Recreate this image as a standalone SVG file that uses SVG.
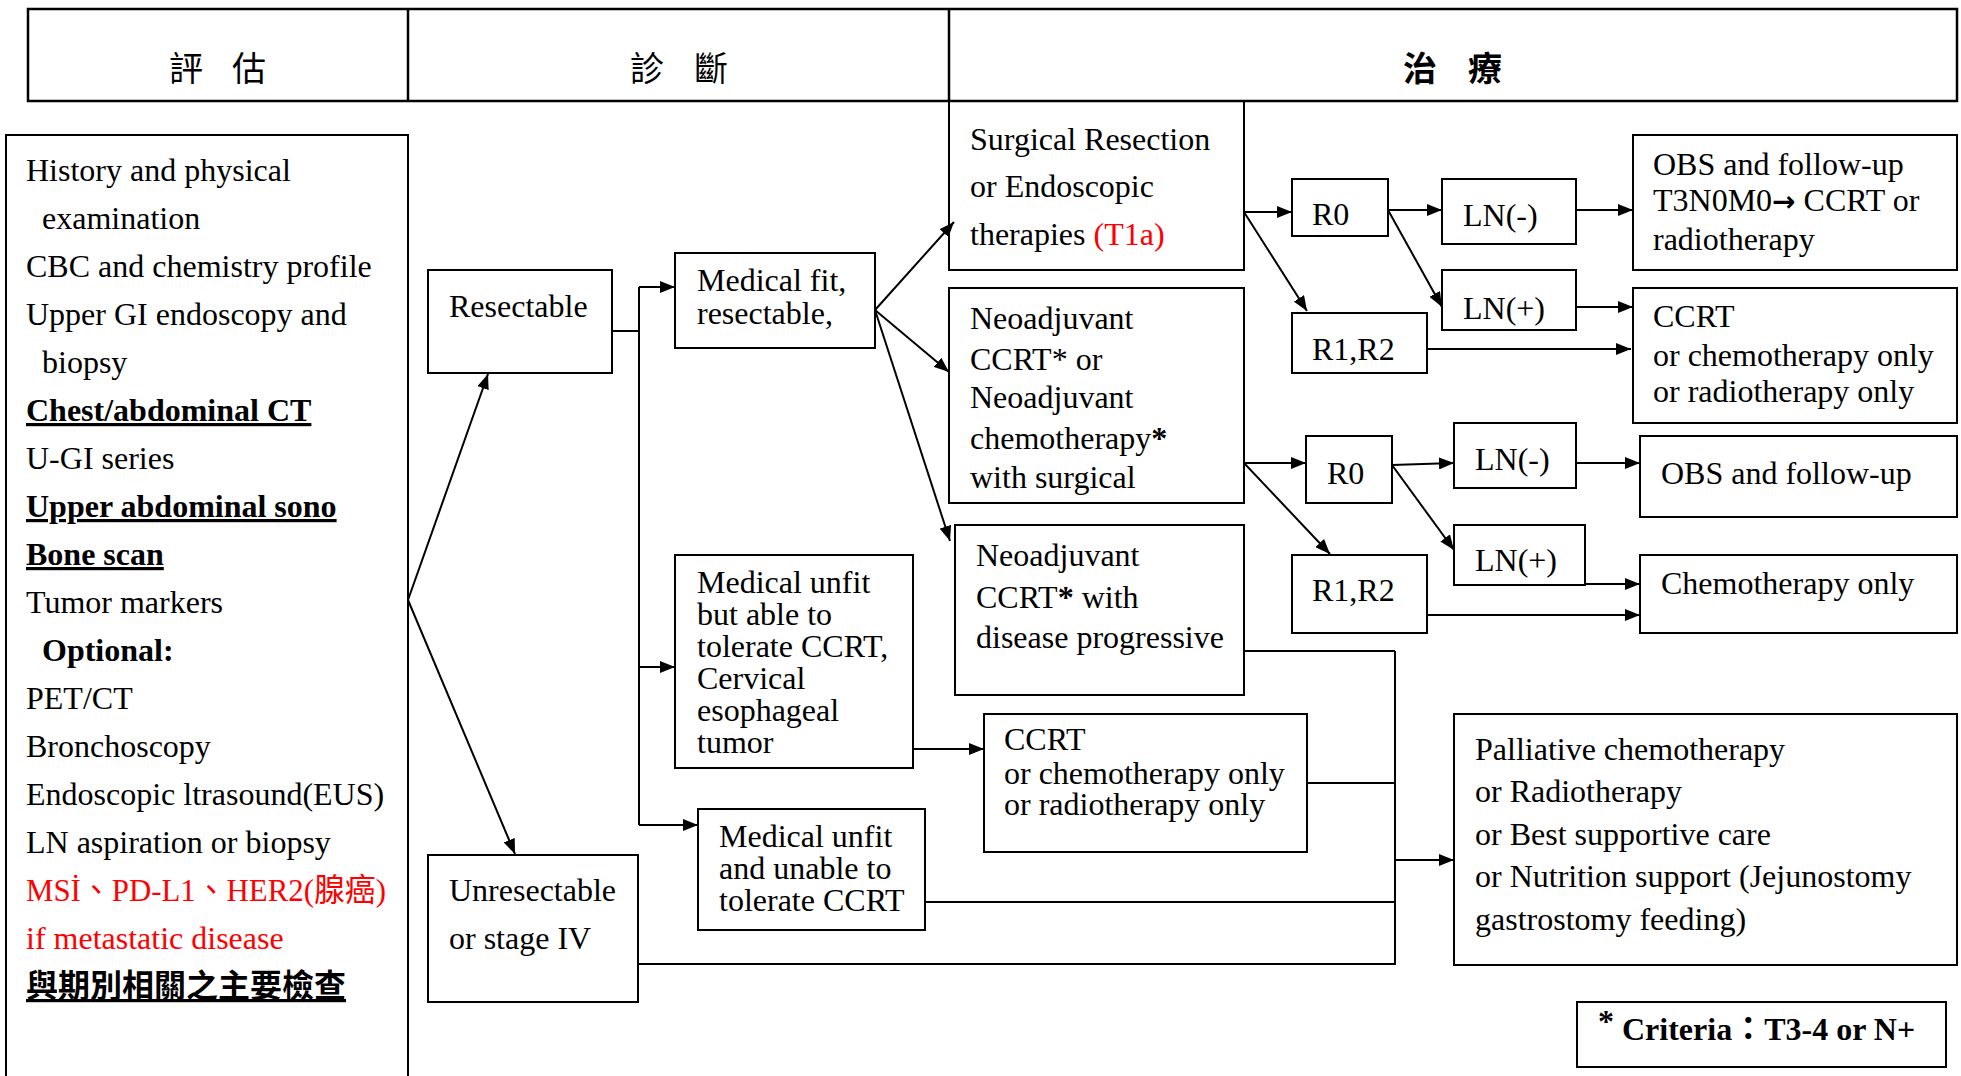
<svg xmlns="http://www.w3.org/2000/svg" width="1961" height="1076" viewBox="0 0 1961 1076">
<defs>
<marker id="ah" markerUnits="userSpaceOnUse" markerWidth="16" markerHeight="12" refX="15" refY="6" orient="auto">
<path d="M0,0 L15,6 L0,12 z" fill="#000"/>
</marker>
<style>
.box{fill:none;stroke:#000;stroke-width:2}
.hd{fill:none;stroke:#000;stroke-width:2.5}
.t{font-family:"Liberation Serif","Noto Sans CJK TC",serif;font-size:32px;fill:#000}
.b{font-weight:bold}
.u{text-decoration:underline}
.red{fill:#ff0000}
.cjk{font-family:"Noto Sans CJK TC",sans-serif;font-size:34px;fill:#000}
.c{stroke:#000;stroke-width:2;fill:none}
.a{marker-end:url(#ah)}
</style>
</defs>
<rect width="1961" height="1076" fill="#fff"/>

<g id="header">
<rect class="hd" x="28" y="9" width="1929" height="92"/>
<line class="hd" x1="408" y1="9" x2="408" y2="101"/>
<line class="hd" x1="949" y1="9" x2="949" y2="101"/>
<text class="cjk" x="169 205 232" y="81">評 估</text>
<text class="cjk" x="630 666 694" y="81">診 斷</text>
<text class="cjk" x="1403 1440 1468" y="81" font-weight="bold">治 療</text>
</g>

<g id="evaluation">
<path class="box" d="M6,1080 V135 H408 V1080"/>
<text class="t" x="26" y="181">History and physical</text>
<text class="t" x="42" y="229">examination</text>
<text class="t" x="26" y="277">CBC and chemistry profile</text>
<text class="t" x="26" y="325">Upper GI endoscopy and</text>
<text class="t" x="42" y="373">biopsy</text>
<text class="t b u" x="26" y="421">Chest/abdominal CT</text>
<text class="t" x="26" y="469">U-GI series</text>
<text class="t b u" x="26" y="517">Upper abdominal sono</text>
<text class="t b u" x="26" y="565">Bone scan</text>
<text class="t" x="26" y="613">Tumor markers</text>
<text class="t b" x="42" y="661">Optional:</text>
<text class="t" x="26" y="709">PET/CT</text>
<text class="t" x="26" y="757">Bronchoscopy</text>
<text class="t" x="26" y="805">Endoscopic ltrasound(EUS)</text>
<text class="t" x="26" y="853">LN aspiration or biopsy</text>
<text class="t red" x="26" y="901" textLength="360" lengthAdjust="spacingAndGlyphs">MSİ、PD-L1、HER2(腺癌)</text>
<text class="t red" x="26" y="949">if metastatic disease</text>
<text class="t b u" x="26" y="997" style="font-family:'Noto Sans CJK TC',sans-serif">與期別相關之主要檢查</text>
</g>

<g id="resectable">
<rect class="box" x="428" y="270" width="184" height="103"/>
<text class="t" x="449" y="317">Resectable</text>
</g>

<g id="unresectable">
<rect class="box" x="428" y="855" width="210" height="147"/>
<text class="t" x="449" y="901">Unresectable</text>
<text class="t" x="449" y="949">or stage IV</text>
</g>

<g id="medical-fit">
<rect class="box" x="675" y="253" width="200" height="95"/>
<text class="t" x="697" y="291">Medical fit,</text>
<text class="t" x="697" y="324">resectable,</text>
</g>

<g id="medical-unfit-able">
<rect class="box" x="675" y="555" width="238" height="213"/>
<text class="t" x="697" y="593">Medical unfit</text>
<text class="t" x="697" y="625">but able to</text>
<text class="t" x="697" y="657">tolerate CCRT,</text>
<text class="t" x="697" y="689">Cervical</text>
<text class="t" x="697" y="721">esophageal</text>
<text class="t" x="697" y="753">tumor</text>
</g>

<g id="medical-unfit-unable">
<rect class="box" x="698" y="809" width="227" height="121"/>
<text class="t" x="719" y="847">Medical unfit</text>
<text class="t" x="719" y="879">and unable to</text>
<text class="t" x="719" y="911">tolerate CCRT</text>
</g>

<g id="surgical">
<rect class="box" x="949" y="101" width="295" height="169"/>
<text class="t" x="970" y="150">Surgical Resection</text>
<text class="t" x="970" y="197">or Endoscopic</text>
<text class="t" x="970" y="245">therapies <tspan class="red">(T1a)</tspan></text>
</g>

<g id="neoadjuvant">
<rect class="box" x="949" y="288" width="295" height="215"/>
<text class="t" x="970" y="329">Neoadjuvant</text>
<text class="t" x="970" y="370">CCRT* or</text>
<text class="t" x="970" y="408">Neoadjuvant</text>
<text class="t" x="970" y="449">chemotherapy<tspan class="b">*</tspan></text>
<text class="t" x="970" y="488">with surgical</text>
</g>

<g id="neoadjuvant-progressive">
<rect class="box" x="955" y="525" width="289" height="170"/>
<text class="t" x="976" y="566">Neoadjuvant</text>
<text class="t" x="976" y="608">CCRT<tspan class="b">*</tspan> with</text>
<text class="t" x="976" y="648">disease progressive</text>
</g>

<g id="ccrt-mid">
<rect class="box" x="984" y="714" width="323" height="138"/>
<text class="t" x="1004" y="750">CCRT</text>
<text class="t" x="1004" y="784">or chemotherapy only</text>
<text class="t" x="1004" y="815">or radiotherapy only</text>
</g>

<g id="r0-top">
<rect class="box" x="1292" y="179" width="96" height="57"/>
<text class="t" x="1312" y="225">R0</text>
</g>

<g id="ln-neg-top">
<rect class="box" x="1442" y="179" width="134" height="65"/>
<text class="t" x="1463" y="226">LN(-)</text>
</g>

<g id="obs-top">
<rect class="box" x="1633" y="135" width="324" height="135"/>
<text class="t" x="1653" y="175">OBS and follow-up</text>
<text class="t" x="1653" y="211">T3N0M0<tspan style="font-family:'DejaVu Sans',sans-serif;font-weight:bold;font-size:28px">→</tspan> CCRT or</text>
<text class="t" x="1653" y="250">radiotherapy</text>
</g>

<g id="ln-pos-top">
<rect class="box" x="1442" y="270" width="134" height="60"/>
<text class="t" x="1463" y="319">LN(+)</text>
</g>

<g id="r1r2-top">
<rect class="box" x="1292" y="313" width="135" height="60"/>
<text class="t" x="1312" y="360">R1,R2</text>
</g>

<g id="ccrt-right">
<rect class="box" x="1633" y="288" width="324" height="135"/>
<text class="t" x="1653" y="327">CCRT</text>
<text class="t" x="1653" y="366">or chemotherapy only</text>
<text class="t" x="1653" y="402">or radiotherapy only</text>
</g>

<g id="r0-second">
<rect class="box" x="1306" y="436" width="86" height="67"/>
<text class="t" x="1327" y="484">R0</text>
</g>

<g id="ln-neg-second">
<rect class="box" x="1454" y="423" width="122" height="65"/>
<text class="t" x="1475" y="470">LN(-)</text>
</g>

<g id="obs-second">
<rect class="box" x="1640" y="436" width="317" height="81"/>
<text class="t" x="1661" y="484">OBS and follow-up</text>
</g>

<g id="ln-pos-second">
<rect class="box" x="1454" y="525" width="131" height="60"/>
<text class="t" x="1475" y="571">LN(+)</text>
</g>

<g id="r1r2-second">
<rect class="box" x="1292" y="555" width="135" height="78"/>
<text class="t" x="1312" y="601">R1,R2</text>
</g>

<g id="chemo-only">
<rect class="box" x="1640" y="555" width="317" height="78"/>
<text class="t" x="1661" y="594">Chemotherapy only</text>
</g>

<g id="palliative">
<rect class="box" x="1454" y="714" width="503" height="251"/>
<text class="t" x="1475" y="760">Palliative chemotherapy</text>
<text class="t" x="1475" y="802">or Radiotherapy</text>
<text class="t" x="1475" y="845">or Best supportive care</text>
<text class="t" x="1475" y="887">or Nutrition support (Jejunostomy</text>
<text class="t" x="1475" y="930">gastrostomy feeding)</text>
</g>

<g id="criteria">
<rect class="box" x="1577" y="1002" width="369" height="65"/>
<text class="t b" x="1598" y="1040"><tspan dy="-8">*</tspan><tspan dy="8"> Criteria：T3-4 or N+</tspan></text>
</g>

<g id="connectors">
<line class="c a" x1="408" y1="600" x2="488" y2="374"/>
<line class="c a" x1="408" y1="600" x2="515" y2="854"/>
<polyline class="c" points="612,331 639,331"/>
<line class="c" x1="639" y1="287" x2="639" y2="825"/>
<line class="c a" x1="639" y1="287" x2="675" y2="287"/>
<line class="c a" x1="639" y1="667" x2="675" y2="667"/>
<line class="c a" x1="639" y1="825" x2="698" y2="825"/>
<line class="c a" x1="875" y1="310" x2="954" y2="222"/>
<line class="c a" x1="875" y1="310" x2="949" y2="372"/>
<line class="c a" x1="875" y1="310" x2="950" y2="541"/>
<line class="c a" x1="1244" y1="212" x2="1292" y2="212"/>
<line class="c a" x1="1244" y1="212" x2="1307" y2="311"/>
<line class="c a" x1="1388" y1="210" x2="1442" y2="210"/>
<line class="c a" x1="1388" y1="210" x2="1442" y2="307"/>
<line class="c a" x1="1576" y1="210" x2="1633" y2="210"/>
<line class="c a" x1="1576" y1="307" x2="1633" y2="307"/>
<line class="c a" x1="1427" y1="349" x2="1631" y2="349"/>
<line class="c a" x1="1244" y1="463" x2="1306" y2="463"/>
<line class="c a" x1="1244" y1="463" x2="1330" y2="554"/>
<line class="c a" x1="1392" y1="465" x2="1454" y2="463"/>
<line class="c a" x1="1392" y1="465" x2="1454" y2="550"/>
<line class="c a" x1="1576" y1="463" x2="1640" y2="463"/>
<line class="c a" x1="1585" y1="584" x2="1640" y2="584"/>
<line class="c a" x1="1427" y1="615" x2="1640" y2="615"/>
<line class="c a" x1="913" y1="749" x2="984" y2="749"/>
<line class="c" x1="1244" y1="651" x2="1395" y2="651"/>
<line class="c" x1="1395" y1="651" x2="1395" y2="965"/>
<line class="c" x1="1307" y1="783" x2="1395" y2="783"/>
<line class="c" x1="925" y1="902" x2="1395" y2="902"/>
<line class="c" x1="638" y1="964" x2="1395" y2="964"/>
<line class="c a" x1="1395" y1="860" x2="1454" y2="860"/>
</g>
</svg>
